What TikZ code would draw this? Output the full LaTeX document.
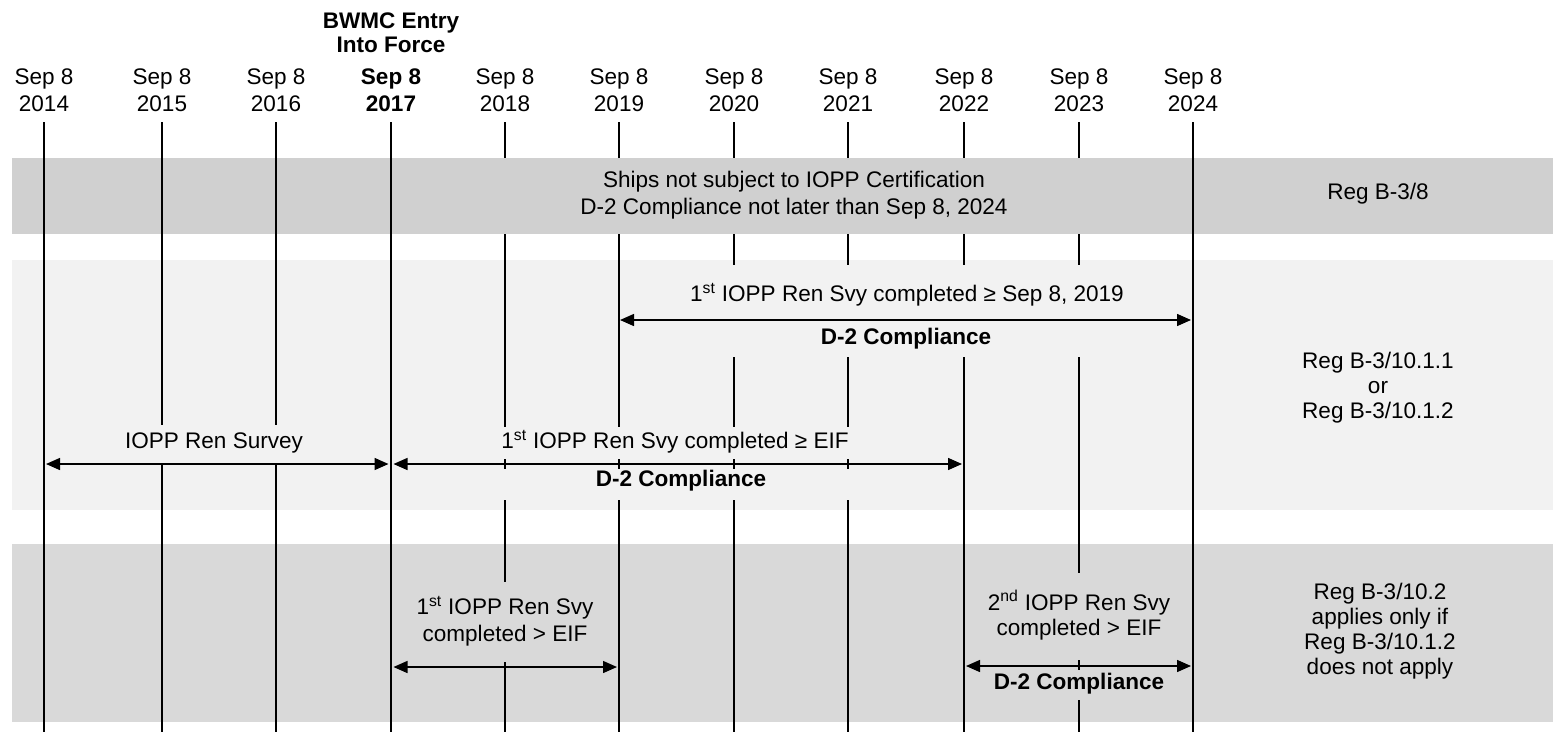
\documentclass[tikz,border=0pt]{standalone}
\usepackage{fontspec}
\setmainfont{Liberation Sans}
\usetikzlibrary{arrows.meta}
\definecolor{bandA}{HTML}{D0D0D0}
\definecolor{bandB}{HTML}{F2F2F2}
\definecolor{bandC}{HTML}{D9D9D9}
\begin{document}
\begin{tikzpicture}[x=0.75pt,y=-0.75pt,
  txt/.style={font=\fontsize{16.9}{20.25}\selectfont, align=center, inner sep=0pt},
  txtB/.style={font=\fontsize{16.9}{18.75}\selectfont, align=center, inner sep=0pt},
  hdr/.style={font=\bfseries\fontsize{16.9}{18}\selectfont, align=center, inner sep=0pt},
  thinline/.style={line width=1pt, black},
  thickline/.style={line width=2.2pt, black},
  arr/.style={line width=1.1pt, {Triangle[length=10.5pt,width=9pt]}-{Triangle[length=10.5pt,width=9pt]}}
]
\useasboundingbox (0,0) rectangle (1553,732);
% bands
\fill[bandA] (12,158) rectangle (1553,234);
\fill[bandB] (12,260) rectangle (1553,510);
\fill[bandC] (12,544) rectangle (1553,722);
% year lines
\foreach \x in {44,162,276,505,619,734,848,964,1079}
  \draw[thinline] (\x,122) -- (\x,732);
\foreach \x in {391,1193}
  \draw[thickline] (\x,122) -- (\x,732);
% year labels
\foreach \x/\n in {44/2014,162/2015,276/2016,505/2018,619/2019,734/2020,848/2021,964/2022,1079/2023,1193/2024}
  \node[txt] (y\n) at (\x,90.5) {Sep 8\\\n};
\node[hdr, font=\bfseries\fontsize{16.9}{20.25}\selectfont] (y2017) at (391,90.5) {Sep 8\\2017};
\node[hdr] (eif) at (391,33) {BWMC Entry\\Into Force};
% covers (same colour as band, hiding the year lines behind the texts)
\fill[bandA] (409,158) rectangle (1179,234);
\fill[bandB] (680,265) rectangle (1135,357);
\fill[bandB] (490,427) rectangle (860,459);
\fill[bandB] (490,469) rectangle (860,500);
\fill[bandB] (110,425) rectangle (320,463);
\fill[bandC] (412,582) rectangle (598,662);
\fill[bandC] (985,573) rectangle (1173,660);
\fill[bandC] (985,670) rectangle (1173,700);
% arrow end points
\coordinate (a1l) at (620,320);  \coordinate (a1r) at (1191,320);
\coordinate (a2l) at (46,464);   \coordinate (a2r) at (388.5,464);
\coordinate (a3l) at (393.5,464);  \coordinate (a3r) at (962,464);
\coordinate (a4l) at (393.5,667);  \coordinate (a4r) at (617,667);
\coordinate (a5l) at (966,666);  \coordinate (a5r) at (1191,666);
\draw[arr] (a1l) -- (a1r);
\draw[arr] (a2l) -- (a2r);
\draw[arr] (a3l) -- (a3r);
\draw[arr] (a4l) -- (a4r);
\draw[arr] (a5l) -- (a5r);
% band 1
\node[txt] (b1) at (794,195) {Ships not subject to IOPP Certification\\D-2 Compliance not later than Sep 8, 2024};
\node[txt] (r1) at (1378,194) {Reg B-3/8};
% band 2
\node[txt] (b2a) at (907,295) {1\textsuperscript{st} IOPP Ren Svy completed ≥ Sep 8, 2019};
\node[txt, font=\bfseries\fontsize{16.9}{20.25}\selectfont] (b2b) at (906,339) {D-2 Compliance};
\node[txt] (b2c) at (214,443) {IOPP Ren Survey};
\node[txt] (b2d) at (675,442) {1\textsuperscript{st} IOPP Ren Svy completed ≥ EIF};
\node[txt, font=\bfseries\fontsize{16.9}{20.25}\selectfont] (b2e) at (681,481) {D-2 Compliance};
\node[txtB] (r2) at (1378,388) {Reg B-3/10.1.1\\or\\Reg B-3/10.1.2};
% band 3
\node[font=\fontsize{16.9}{20.25}\selectfont, align=center, inner sep=0pt] (b3a) at (505,621) {1\textsuperscript{st} IOPP Ren Svy\\completed > EIF};
\node[txtB] (b3b) at (1079,615) {2\textsuperscript{nd} IOPP Ren Svy\\completed > EIF};
\node[txt, font=\bfseries\fontsize{16.9}{20.25}\selectfont] (b3c) at (1079,684) {D-2 Compliance};
\node[txtB] (r3) at (1380,631) {Reg B-3/10.2\\applies only if\\Reg B-3/10.1.2\\does not apply};
\end{tikzpicture}
\end{document}
